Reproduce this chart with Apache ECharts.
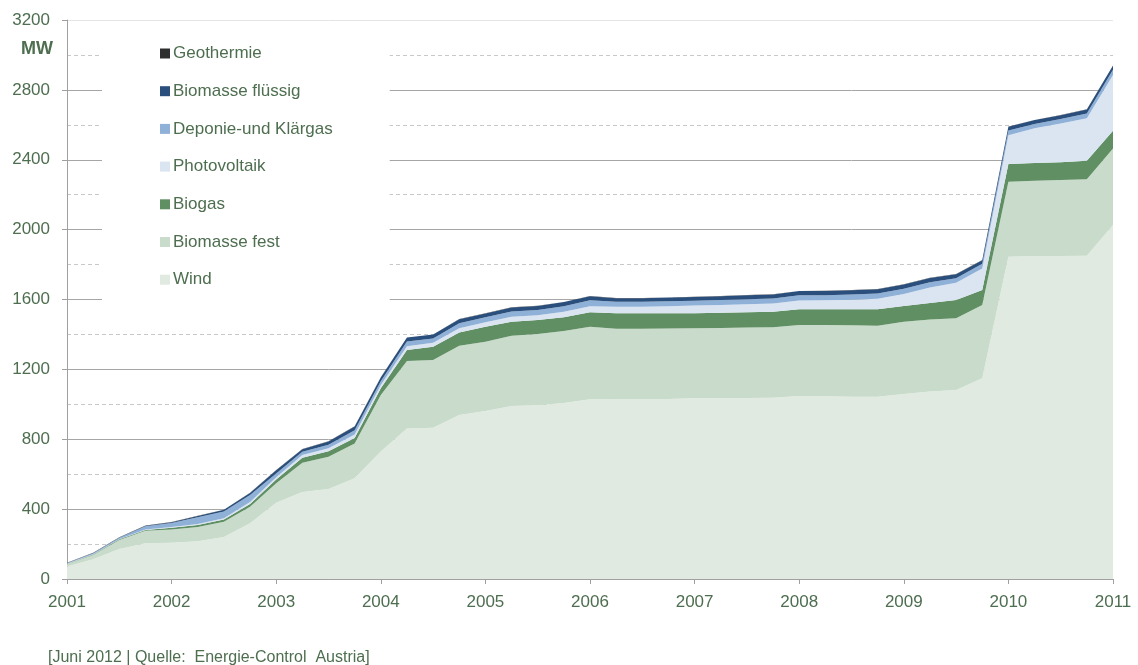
<!DOCTYPE html>
<html>
<head>
<meta charset="utf-8">
<script src="https://cdn.jsdelivr.net/npm/echarts@6/dist/echarts.min.js"></script>
<style>
  html, body { margin: 0; padding: 0; background: #fff; }
  #chart { width: 1138px; height: 665px; }
</style>
</head>
<body>
<div id="chart"></div>
<script>
// quarterly periods, 2001 .. 2011
const periods = [
  '2001', '2001 Q2', '2001 Q3', '2001 Q4',
  '2002', '2002 Q2', '2002 Q3', '2002 Q4',
  '2003', '2003 Q2', '2003 Q3', '2003 Q4',
  '2004', '2004 Q2', '2004 Q3', '2004 Q4',
  '2005', '2005 Q2', '2005 Q3', '2005 Q4',
  '2006', '2006 Q2', '2006 Q3', '2006 Q4',
  '2007', '2007 Q2', '2007 Q3', '2007 Q4',
  '2008', '2008 Q2', '2008 Q3', '2008 Q4',
  '2009', '2009 Q2', '2009 Q3', '2009 Q4',
  '2010', '2010 Q2', '2010 Q3', '2010 Q4',
  '2011'
]

// MW per source (stacked from bottom: Wind .. Geothermie)
const wind = [72, 113, 172, 204, 208, 216, 240, 319, 437, 498, 515, 577, 730, 862, 866, 939, 962, 990, 994, 1007,
  1029, 1030, 1030, 1031, 1034, 1034, 1036, 1038, 1048, 1046, 1044, 1044, 1059, 1073, 1082, 1149, 1845, 1849, 1849, 1851, 2026]
const biomasseFest = [12, 24, 51, 72, 76, 82, 88, 95, 111, 168, 185, 198, 323, 386, 388, 396, 396, 403, 408, 413,
  415, 403, 403, 403, 401, 403, 403, 403, 406, 408, 408, 406, 414, 413, 410, 419, 429, 431, 435, 437, 439]
const biogas = [2, 3, 4, 5, 10, 11, 12, 15, 22, 28, 32, 32, 39, 63, 76, 76, 86, 80, 80, 78,
  83, 88, 88, 88, 86, 87, 88, 89, 90, 90, 92, 94, 90, 94, 105, 86, 101, 101, 102, 106, 101]
const photovoltaik = [1, 1, 2, 3, 4, 6, 8, 12, 12, 16, 17, 20, 18, 22, 22, 25, 26, 28, 28, 32,
  35, 38, 38, 39, 44, 45, 46, 47, 50, 51, 54, 60, 68, 88, 99, 124, 165, 199, 222, 243, 319]
const deponie = [4, 6, 7, 18, 22, 38, 38, 40, 22, 18, 20, 25, 22, 26, 25, 28, 28, 30, 30, 32,
  33, 28, 28, 29, 28, 28, 29, 29, 30, 30, 31, 31, 31, 31, 26, 26, 27, 25, 25, 28, 30]
const biomasseFluessig = [1, 2, 2, 3, 5, 8, 10, 12, 19, 15, 18, 21, 22, 23, 22, 23, 22, 23, 23, 23,
  24, 20, 20, 21, 22, 22, 23, 23, 24, 24, 24, 24, 24, 24, 23, 21, 22, 22, 22, 23, 24]
const geothermie = [1, 1, 1, 1, 1, 1, 1, 1, 1, 1, 1, 1, 1, 1, 1, 1, 1, 1, 1, 1,
  1, 1, 1, 1, 1, 1, 1, 1, 1, 1, 1, 1, 1, 1, 1, 1, 1, 1, 1, 1, 1]

const yTicks = [0, 400, 800, 1200, 1600, 2000, 2400, 2800, 3200]

const textColor = '#4e6e50'
const font = 'Liberation Sans, Arial, sans-serif'

function areaSeries(name, data, color) {
  return {
    name: name,
    type: 'line',
    stack: 'total',
    data: data,
    showSymbol: false,
    symbol: 'none',
    lineStyle: { width: 0, color: color },
    itemStyle: { color: color },
    areaStyle: { color: color, opacity: 1 },
    silent: true
  }
}

const chart = echarts.init(document.getElementById('chart'))

chart.setOption({
  animation: false,
  textStyle: { fontFamily: font },
  grid: { left: 67, right: 25, top: 20, bottom: 86 },
  title: {
    text: 'MW',
    left: 16,
    top: 35,
    textStyle: { fontSize: 18, fontWeight: 'bold', color: textColor, fontFamily: font }
  },
  legend: {
    orient: 'vertical',
    left: 102,
    top: 36,
    backgroundColor: '#fff',
    padding: [9, 57, 12, 58],
    itemWidth: 10,
    itemHeight: 10,
    itemGap: 20.7,
    icon: 'rect',
    textStyle: { fontSize: 17, color: textColor, lineHeight: 17, padding: [0, 0, 0, -2] },
    data: ['Geothermie', 'Biomasse flüssig', 'Deponie-und Klärgas', 'Photovoltaik', 'Biogas', 'Biomasse fest', 'Wind']
  },
  xAxis: {
    type: 'category',
    boundaryGap: false,
    data: periods,
    axisLine: { lineStyle: { color: '#a0a0a0' } },
    axisTick: { interval: 3, length: 5, lineStyle: { color: '#a0a0a0' } },
    axisLabel: {
      interval: 3,
      fontSize: 17,
      color: textColor,
      margin: 15,
      formatter: v => v.slice(0, 4)
    },
    splitLine: { show: false }
  },
  yAxis: {
    type: 'value',
    min: yTicks[0],
    max: yTicks[yTicks.length - 1],
    interval: 400,
    axisLine: { show: true, lineStyle: { color: '#a0a0a0' } },
    axisTick: { show: true, length: 5, lineStyle: { color: '#a0a0a0' } },
    axisLabel: { fontSize: 17, color: textColor, margin: 17, formatter: v => String(v) },
    splitLine: {
      lineStyle: {
        color: ['#a6a6a6', '#a6a6a6', '#a6a6a6', '#a6a6a6', '#a6a6a6', '#a6a6a6', '#a6a6a6', '#a6a6a6', '#e4e4e4'],
        width: 1
      }
    },
    minorTick: { show: false, splitNumber: 2 },
    minorSplitLine: { show: true, lineStyle: { color: '#c8c8c8', type: [4, 3], width: 1 } }
  },
  graphic: [{
    type: 'text',
    left: 48,
    top: 650,
    style: {
      text: '[Juni 2012 | Quelle:  Energie-Control  Austria]',
      fontSize: 16,
      fill: textColor,
      fontFamily: font
    }
  }],
  series: [
    areaSeries('Wind', wind, '#e0eae1'),
    areaSeries('Biomasse fest', biomasseFest, '#c9dccb'),
    areaSeries('Biogas', biogas, '#5f8f62'),
    areaSeries('Photovoltaik', photovoltaik, '#dae5f1'),
    areaSeries('Deponie-und Klärgas', deponie, '#8fb1d8'),
    areaSeries('Biomasse flüssig', biomasseFluessig, '#2b4f7c'),
    areaSeries('Geothermie', geothermie, '#2e2e2e')
  ]
})
</script>
</body>
</html>
